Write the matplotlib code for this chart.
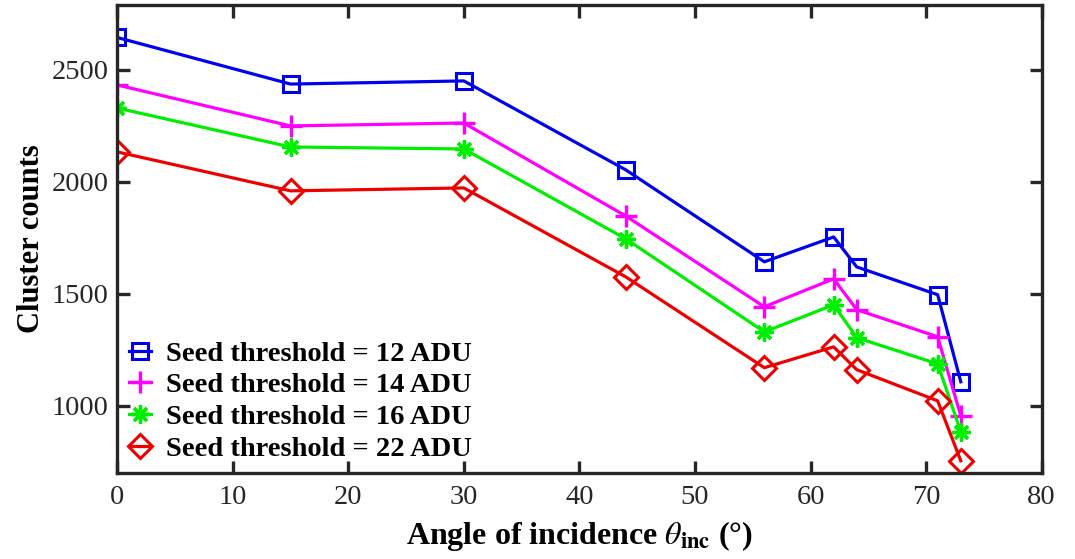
import numpy as np
import matplotlib
matplotlib.use("Agg")
import matplotlib.pyplot as plt

# Angle of incidence (deg)
angles = [0, 15, 30, 44, 56, 62, 64, 71, 73]

# Cluster counts for each seed threshold
counts_12 = [2645, 2437, 2451, 2054, 1643, 1754, 1620, 1496, 1107]
counts_14 = [2433, 2250, 2263, 1848, 1442, 1567, 1429, 1308, 955]
counts_16 = [2330, 2156, 2147, 1746, 1330, 1451, 1304, 1187, 884]
counts_22 = [2134, 1960, 1973, 1576, 1170, 1263, 1161, 1022, 754]

labels = ['Seed threshold = 12 ADU', 'Seed threshold = 14 ADU',
          'Seed threshold = 16 ADU', 'Seed threshold = 22 ADU']

plt.rcParams['font.family'] = 'Liberation Serif'
plt.rcParams['mathtext.fontset'] = 'stix'

fig = plt.figure(figsize=(10.75, 5.59), dpi=100)
ax = fig.add_axes([0.109, 0.154, 0.860, 0.837])

ax.plot(angles, counts_12, color='#0000ee', lw=2.3, marker='s', ms=11,
        mfc='none', mew=2.2, label=labels[0])
ax.plot(angles, counts_14, color='#ff00ff', lw=2.3, marker='+', ms=16,
        mew=2.4, label=labels[1])
ax.plot(angles, counts_16, color='#00ee00', lw=2.3, marker=(8, 2, 0), ms=13,
        mew=2.4, label=labels[2])
ax.plot(angles, counts_22, color='#ee0000', lw=2.3, marker='D', ms=12,
        mfc='none', mew=2.2, label=labels[3])

ax.set_xlim(0, 80)
ax.set_ylim(700, 2790)
ax.set_xticks(np.arange(0, 81, 10))
ax.set_yticks([1000, 1500, 2000, 2500])

for s in ax.spines.values():
    s.set_linewidth(2.4)
    s.set_color('#262626')
ax.tick_params(direction='in', length=9, width=2.4, top=True, right=True,
               labelsize=20.5, colors='#262626')
ax.tick_params(axis='y', pad=6)
ax.tick_params(axis='x', pad=9)

ax.set_xlabel(r'Angle of incidence $\theta_{\mathbf{inc}}$ (°)', fontsize=23,
              fontweight='bold', labelpad=6)
ax.set_ylabel('Cluster counts', fontsize=22, fontweight='bold', labelpad=4)

leg = ax.legend(loc='lower left', frameon=False, handlelength=0.8,
                handletextpad=0.5, labelspacing=0.2, borderaxespad=0.0,
                prop={'family': 'Liberation Serif', 'weight': 'bold', 'size': 20.5})

fig.savefig('out.png', dpi=100)
